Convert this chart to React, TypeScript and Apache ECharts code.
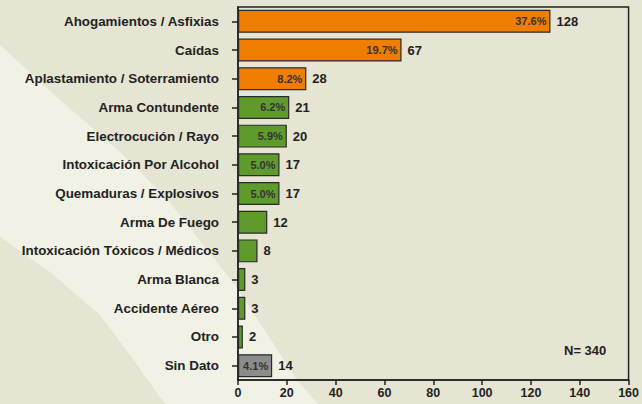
import React, { useEffect, useRef } from "react";
import * as echarts from "echarts";

const categories = [
  "Ahogamientos / Asfixias",
  "Caídas",
  "Aplastamiento / Soterramiento",
  "Arma Contundente",
  "Electrocución / Rayo",
  "Intoxicación Por Alcohol",
  "Quemaduras / Explosivos",
  "Arma De Fuego",
  "Intoxicación Tóxicos / Médicos",
  "Arma Blanca",
  "Accidente Aéreo",
  "Otro",
  "Sin Dato",
];
const counts = [128, 67, 28, 21, 20, 17, 17, 12, 8, 3, 3, 2, 14];
const percents: (string | null)[] = [
  "37.6%", "19.7%", "8.2%", "6.2%", "5.9%", "5.0%", "5.0%",
  null, null, null, null, null, "4.1%",
];
const groups = ["top", "top", "top", "mid", "mid", "mid", "mid", "mid", "mid", "mid", "mid", "mid", "none"];
const xTicks = { min: 0, max: 160, interval: 20 };
const totalLabel = "N= 340";

const groupColors: Record<string, string> = {
  top: "#EF7D00",
  mid: "#5F9B2B",
  none: "#8C8C8C",
};

const FONT = "'Liberation Sans', Arial, sans-serif";

export default function App() {
  const ref = useRef<HTMLDivElement>(null);
  useEffect(() => {
    if (!ref.current) return;
    const chart = echarts.init(ref.current, null, { renderer: "svg" });
    const option: any = {
      animation: false,
      backgroundColor: "#E6E5D3",
      textStyle: { fontFamily: FONT },
      graphic: [
        {
          type: "polygon",
          z: -10,
          silent: true,
          shape: {
            points: [
              [0, 45], [60, 100], [120, 152], [168, 200], [235, 285],
              [297, 380], [318, 404], [165, 404], [130, 355], [100, 315],
              [50, 272], [0, 237],
            ],
          },
          style: { fill: "#F1F1E5" },
        },
        {
          type: "text",
          left: 564,
          top: 344,
          style: {
            text: totalLabel,
            font: `bold 13px ${FONT}`,
            fill: "#222",
          },
        },
      ],
      grid: {
        left: 238,
        right: 10,
        top: 7,
        bottom: 24,
        show: true,
        borderColor: "#222",
        borderWidth: 1.5,
        backgroundColor: "transparent",
      },
      xAxis: {
        type: "value",
        min: xTicks.min,
        max: xTicks.max,
        interval: xTicks.interval,
        splitLine: { show: false },
        axisLine: { show: true, lineStyle: { color: "#222", width: 1.5 } },
        axisTick: { show: true, length: 5, lineStyle: { color: "#222", width: 1.5 } },
        axisLabel: {
          color: "#222",
          fontWeight: "bold",
          fontSize: 12.5,
          fontFamily: FONT,
          margin: 6,
        },
      },
      yAxis: {
        type: "category",
        inverse: true,
        data: categories,
        axisLine: { show: true, lineStyle: { color: "#222", width: 1.5 } },
        axisTick: { show: true, length: 6, alignWithLabel: true, lineStyle: { color: "#222", width: 1.5 } },
        axisLabel: {
          color: "#222",
          fontWeight: "bold",
          fontSize: 13.4,
          fontFamily: FONT,
          margin: 19,
        },
      },
      series: [
        {
          type: "bar",
          barCategoryGap: "20%",
          data: counts.map((v, i) => ({
            value: v,
            itemStyle: {
              color: groupColors[groups[i]],
              borderColor: "#2a2a2a",
              borderWidth: 1.2,
            },
            label: {
              show: percents[i] != null,
              formatter: percents[i] ?? "",
            },
          })),
          label: {
            position: "insideRight",
            distance: 4,
            color: "#333",
            fontWeight: "bold",
            fontSize: 11,
            fontFamily: FONT,
          },
        },
        {
          type: "bar",
          barGap: "-100%",
          barCategoryGap: "20%",
          silent: true,
          data: counts,
          itemStyle: { color: "transparent" },
          label: {
            show: true,
            position: "right",
            distance: 6,
            color: "#222",
            fontWeight: "bold",
            fontSize: 13,
            fontFamily: FONT,
          },
        },
      ],
    };
    chart.setOption(option);
    return () => chart.dispose();
  }, []);
  return (
    <div
      ref={ref}
      style={{ position: "fixed", left: 0, top: 0, width: 642, height: 404 }}
    />
  );
}
